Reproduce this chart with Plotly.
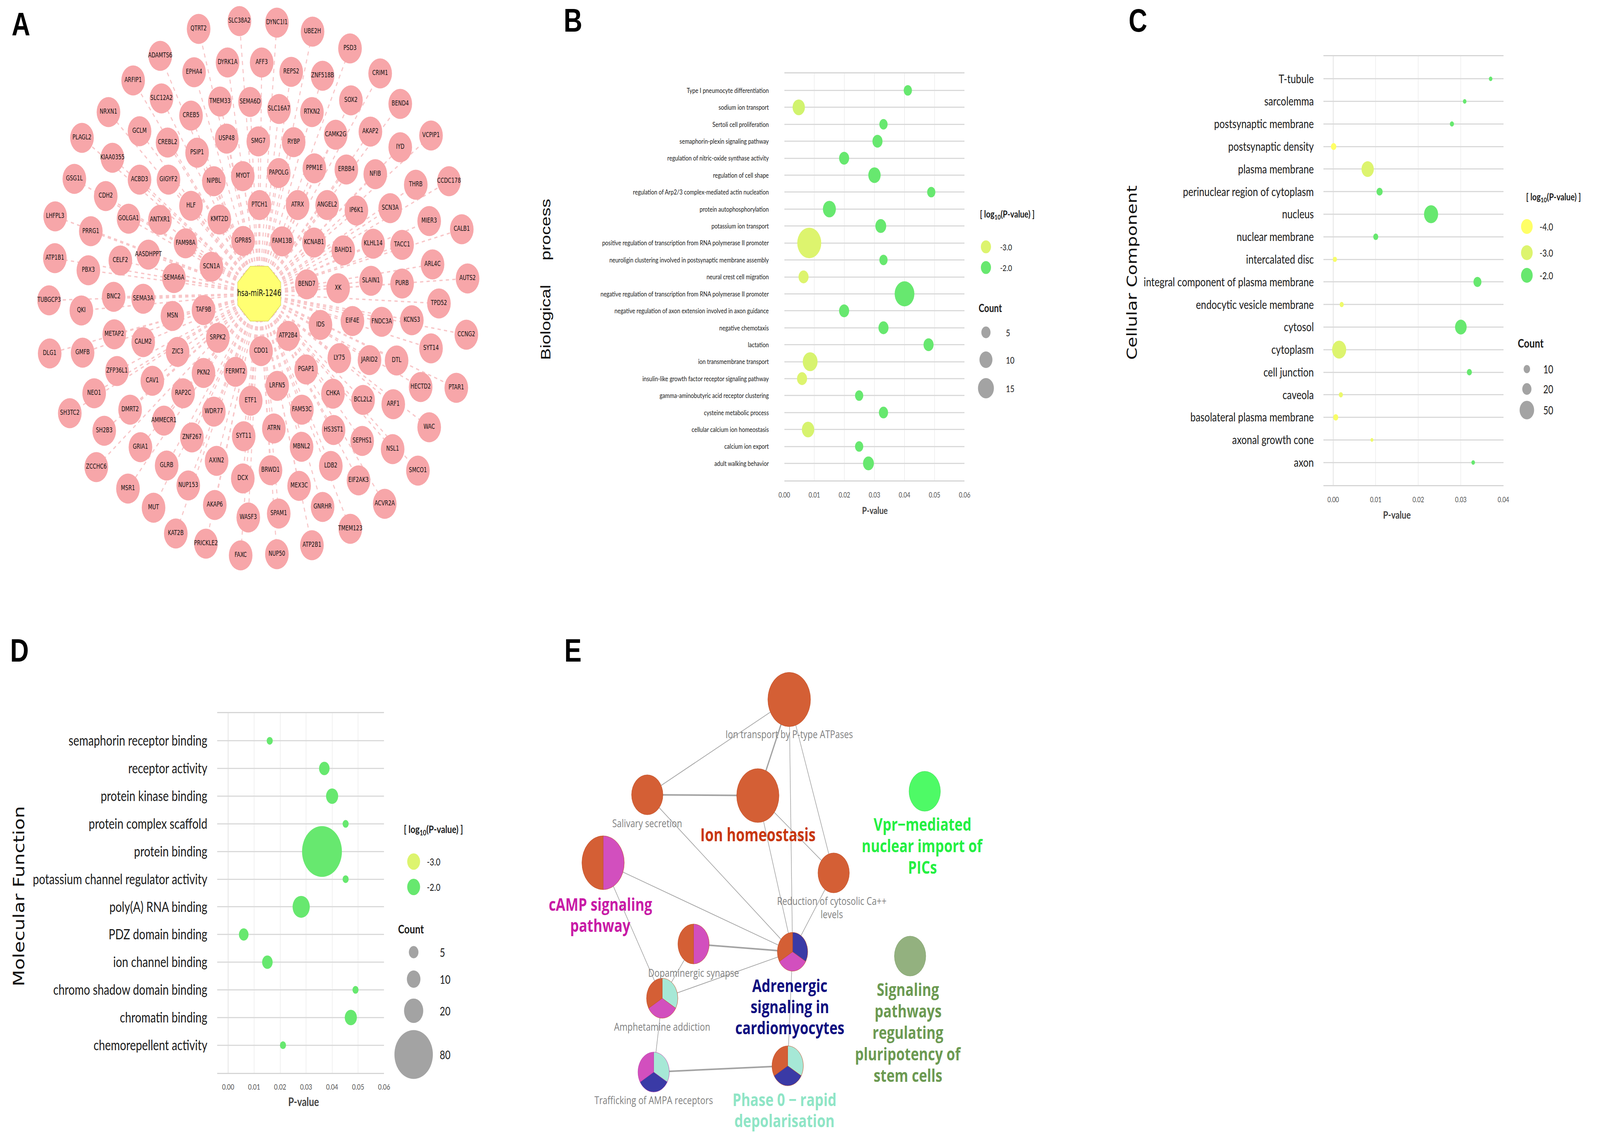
import plotly.graph_objects as go

W, H = 5214, 2901

# ================= Panel A : miRNA - target network =================
a_center_name = "hsa-miR-1246"
a_center_x = [832]
a_center_y = [752]
a_genes = [
    "QTRT2", "SLC38A2", "ADAMTS6", "EPHA4", "DYRK1A", "AFF3", "ARFIP1", "SLC12A2", "TMEM33", "SEMA6D",
    "NRXN1", "CREB5", "GCLM", "PLAGL2", "CREBL2", "USP48", "SMG7", "PSIP1", "KIAA0355", "GSG1L",
    "ACBD3", "GIGYF2", "NIPBL", "MYOT", "CDH2", "HLF", "PTCH1", "LHFPL3", "GOLGA1", "ANTXR1",
    "KMT2D", "PRRG1", "FAM98A", "GPR85", "ATP1B1", "CELF2", "AASDHPPT", "SCN1A", "PBX3",
    "DYNC1I1", "UBE2H", "PSD3", "REPS2", "ZNF518B", "CRIM1", "SLC16A7", "RTKN2", "SOX2", "BEND4",
    "CAMK2G", "AKAP2", "VCPIP1", "RYBP", "IYD", "PAPOLG", "PPM1E", "ERBB4", "NFIB", "THRB",
    "CCDC178", "ATRX", "ANGEL2", "IP6K1", "SCN3A", "MIER3", "CALB1", "FAM13B", "KCNAB1", "BAHD1",
    "KLHL14", "TACC1", "ARL4C",
    "SEMA6A", "TUBGCP3", "QKI", "BNC2", "SEMA3A", "MSN", "TAF9B", "METAP2", "CALM2", "DLG1",
    "GMFB", "ZIC3", "SRPK2", "CDO1", "ZFP36L1", "CAV1", "PKN2", "FERMT2", "NEO1", "RAP2C",
    "ETF1", "SH3TC2", "DMRT2", "WDR77", "AMMECR1", "SH2B3", "ZNF267", "SYT11", "GRIA1", "ZCCHC6",
    "GLRB", "AXIN2", "DCX", "MSR1", "NUP153", "MUT", "AKAP6", "WASF3", "KAT2B", "PRICKLE2",
    "FAXC", "NUP50", "ATP2B1",
    "BEND7", "XK", "SLAIN1", "PURB", "AUTS2", "TPD52", "IDS", "EIF4E", "FNDC3A", "KCNS3",
    "CCNG2", "ATP2B4", "SYT14", "LY75", "JARID2", "DTL", "PGAP1", "HECTD2", "PTAR1", "LRFN5",
    "CHKA", "BCL2L2", "ARF1", "FAM53C", "WAC", "ATRN", "HS3ST1", "SEPHS1", "NSL1", "MBNL2",
    "SMCO1", "BRWD1", "LDB2", "EIF2AK3", "MEX3C", "ACVR2A", "GNRHR", "SPAM1", "TMEM123",
]
a_node_x = [
    633, 767, 507, 618, 728, 840, 418, 511, 703, 802,
    337, 608, 439, 250, 531, 725, 829, 628, 350, 225,
    439, 534, 683, 778, 328, 608, 833, 162, 403, 506,
    701, 279, 590, 779, 161, 376, 468, 675, 271,
    890, 1007, 1130, 937, 1040, 1229, 897, 1005, 1133, 1295,
    1083, 1197, 1396, 945, 1295, 896, 1013, 1118, 1213, 1346,
    1455, 958, 1055, 1151, 1262, 1390, 1497, 907, 1012, 1108,
    1206, 1301, 1401,
    552, 142, 248, 354, 451, 547, 649, 356, 451, 144,
    252, 564, 696, 838, 365, 481, 649, 754, 290, 582,
    804, 210, 408, 683, 519, 323, 611, 781, 442, 297,
    528, 692, 778, 401, 599, 485, 686, 796, 558, 657,
    771, 890, 1005,
    988, 1091, 1199, 1301, 1516, 1422, 1033, 1138, 1234, 1333,
    1512, 927, 1396, 1095, 1194, 1283, 986, 1362, 1479, 891,
    1074, 1173, 1272, 972, 1390, 880, 1076, 1170, 1270, 971,
    1353, 869, 1067, 1158, 963, 1244, 1040, 896, 1131,
]
a_node_y = [
    74, 54, 143, 185, 160, 160, 206, 252, 260, 261,
    287, 296, 336, 353, 365, 355, 362, 391, 404, 458,
    460, 460, 464, 451, 502, 527, 525, 554, 560, 563,
    562, 592, 623, 617, 661, 667, 652, 683, 692,
    58, 81, 124, 184, 194, 188, 279, 287, 257, 266,
    345, 337, 347, 364, 377, 443, 431, 434, 446, 473,
    464, 525, 525, 539, 533, 566, 587, 618, 621, 641,
    624, 627, 677,
    712, 769, 795, 760, 765, 809, 794, 856, 876, 905,
    903, 901, 865, 899, 950, 975, 955, 952, 1007, 1007,
    1026, 1058, 1049, 1054, 1077, 1103, 1120, 1117, 1145, 1196,
    1192, 1180, 1225, 1251, 1243, 1300, 1293, 1325, 1366, 1392,
    1422, 1419, 1396,
    728, 738, 719, 726, 713, 777, 832, 822, 824, 820,
    857, 860, 892, 917, 922, 923, 946, 991, 993, 988,
    1008, 1024, 1035, 1049, 1094, 1097, 1101, 1129, 1150, 1144,
    1205, 1204, 1193, 1230, 1244, 1290, 1298, 1315, 1354,
]

# ================= Panel B : Biological process =================
b_terms = [
    "Type I pneumocyte differentiation",
    "sodium ion transport",
    "Sertoli cell proliferation",
    "semaphorin-plexin signaling pathway",
    "regulation of nitric-oxide synthase activity",
    "regulation of cell shape",
    "regulation of Arp2/3 complex-mediated actin nucleation",
    "protein autophosphorylation",
    "potassium ion transport",
    "positive regulation of transcription from RNA polymerase II promoter",
    "neuroligin clustering involved in postsynaptic membrane assembly",
    "neural crest cell migration",
    "negative regulation of transcription from RNA polymerase II promoter",
    "negative regulation of axon extension involved in axon guidance",
    "negative chemotaxis",
    "lactation",
    "ion transmembrane transport",
    "insulin-like growth factor receptor signaling pathway",
    "gamma-aminobutyric acid receptor clustering",
    "cysteine metabolic process",
    "cellular calcium ion homeostasis",
    "calcium ion export",
    "adult walking behavior",
]
b_pvalue = [0.0411, 0.0048, 0.0330, 0.0310, 0.0199, 0.0300, 0.0489, 0.0150, 0.0321, 0.0083,
            0.0330, 0.0064, 0.0400, 0.0199, 0.0330, 0.0480, 0.0086, 0.0059, 0.0249, 0.0330,
            0.0079, 0.0249, 0.0280]
b_log10p = [-2.0, -2.9, -2.0, -2.0, -2.0, -2.0, -2.0, -2.0, -2.0, -3.0,
            -2.0, -3.0, -2.0, -2.0, -2.0, -2.0, -2.95, -3.0, -2.0, -2.0,
            -2.95, -2.0, -2.0]
b_count = [4, 9, 4, 6, 6, 9, 4, 10, 7, 34,
           4, 6, 23, 6, 6, 6, 13, 6, 4, 5,
           9, 4, 7]
b_legend_log10p = [-3.0, -2.0]
b_legend_count = [5, 10, 15]

# ================= Panel C : Cellular component =================
c_terms = [
    "T-tubule", "sarcolemma", "postsynaptic membrane", "postsynaptic density", "plasma membrane",
    "perinuclear region of cytoplasm", "nucleus", "nuclear membrane", "intercalated disc",
    "integral component of plasma membrane", "endocytic vesicle membrane", "cytosol", "cytoplasm",
    "cell junction", "caveola", "basolateral plasma membrane", "axonal growth cone", "axon",
]
c_pvalue = [0.0370, 0.0309, 0.0279, 0.0001, 0.0081, 0.0109, 0.0230, 0.0100, 0.0004, 0.0339,
            0.0020, 0.0300, 0.0014, 0.0320, 0.0018, 0.0006, 0.0091, 0.0329]
c_log10p = [-2.0, -2.0, -2.0, -4.0, -3.0, -2.0, -2.0, -2.0, -3.8, -2.0,
            -3.5, -2.0, -3.0, -2.0, -3.4, -3.8, -3.5, -2.0]
c_count = [3, 3, 4, 7, 36, 9, 47, 6, 4, 15, 4, 32, 47, 6, 4, 6, 2, 3]
c_legend_log10p = [-4.0, -3.0, -2.0]
c_legend_count = [10, 20, 50]

# ================= Panel D : Molecular function =================
d_terms = [
    "semaphorin receptor binding", "receptor activity", "protein kinase binding",
    "protein complex scaffold", "protein binding", "potassium channel regulator activity",
    "poly(A) RNA binding", "PDZ domain binding", "ion channel binding",
    "chromo shadow domain binding", "chromatin binding", "chemorepellent activity",
]
d_pvalue = [0.0160, 0.0370, 0.0400, 0.0452, 0.0361, 0.0452, 0.0281, 0.0060, 0.0151, 0.0490, 0.0472, 0.0211]
d_log10p = [-2.0] * 12
d_count = [2, 6, 8, 2, 86, 2, 16, 5, 6, 2, 8, 2]
d_legend_log10p = [-3.0, -2.0]
d_legend_count = [5, 10, 20, 80]

pvalue_ticks = [0.00, 0.01, 0.02, 0.03, 0.04, 0.05, 0.06]
c_pvalue_ticks = [0.00, 0.01, 0.02, 0.03, 0.04]

# ================= Panel E : pathway cluster network =================
e_terms = [
    "Ion transport by P-type ATPases", "Salivary secretion", "Ion homeostasis",
    "Reduction of cytosolic Ca++ levels", "cAMP signaling pathway", "Dopaminergic synapse",
    "Adrenergic signaling in cardiomyocytes", "Amphetamine addiction",
    "Trafficking of AMPA receptors", "Phase 0 - rapid depolarisation",
    "Vpr-mediated nuclear import of PICs", "Signaling pathways regulating pluripotency of stem cells",
]
e_node_x = [2572, 2106, 2469, 2718, 1961, 2258, 2583, 2155, 2127, 2567, 3017, 2969]
e_node_y = [1791, 2035, 2037, 2235, 2209, 2417, 2437, 2556, 2745, 2729, 2026, 2448]
e_node_d = [140, 103, 139, 103, 139, 103, 100, 103, 103, 103, 103, 103]
# group membership of each node, clockwise from 12 o'clock
e_membership = [
    ["Ion homeostasis"], ["Ion homeostasis"], ["Ion homeostasis"], ["Ion homeostasis"],
    ["cAMP signaling pathway", "Ion homeostasis"],
    ["cAMP signaling pathway", "Ion homeostasis"],
    ["Adrenergic signaling in cardiomyocytes", "cAMP signaling pathway", "Ion homeostasis"],
    ["Phase 0 - rapid depolarisation", "cAMP signaling pathway", "Ion homeostasis"],
    ["Phase 0 - rapid depolarisation", "Adrenergic signaling in cardiomyocytes", "cAMP signaling pathway"],
    ["Phase 0 - rapid depolarisation", "Adrenergic signaling in cardiomyocytes", "Ion homeostasis"],
    ["Vpr-mediated nuclear import of PICs"],
    ["Signaling pathways regulating pluripotency of stem cells"],
]
e_edges = [(0, 1), (0, 2), (0, 6), (0, 3), (1, 2), (1, 6), (2, 3), (2, 6), (3, 6),
           (4, 6), (4, 7), (5, 6), (5, 7), (7, 6), (7, 8), (6, 9), (8, 9)]
e_edge_strong = [False, True, False, False, True, False, False, False, False,
                 False, False, True, False, False, False, False, True]

# ================= Styles =================
GROUP_COLORS = {
    "Ion homeostasis": "#D45F35",
    "cAMP signaling pathway": "#D24FBE",
    "Adrenergic signaling in cardiomyocytes": "#3A3AA6",
    "Phase 0 - rapid depolarisation": "#A6E8D6",
    "Vpr-mediated nuclear import of PICs": "#4EFA66",
    "Signaling pathways regulating pluripotency of stem cells": "#93B17F",
}
GROUP_LINE = {
    "Ion homeostasis": "#C04E26",
    "cAMP signaling pathway": "#B83FA6",
    "Adrenergic signaling in cardiomyocytes": "#2E2E90",
    "Phase 0 - rapid depolarisation": "#8FD6C2",
    "Vpr-mediated nuclear import of PICs": "#3BDD52",
    "Signaling pathways regulating pluripotency of stem cells": "#80A06C",
}
CS = [[0.0, "#FFFF66"], [0.5, "#DDF46E"], [1.0, "#67E86F"]]
FONT = "Lato, Carlito, Liberation Sans, sans-serif"
EFONT = "Open Sans, Lato, Liberation Sans, sans-serif"
NODEFONT = "DejaVu Sans Condensed, Liberation Sans Narrow, Liberation Sans, sans-serif"

fig = go.Figure()

# ---------- Panel A drawing ----------
ex, ey = [], []
for nx, ny in zip(a_node_x, a_node_y):
    ex += [a_center_x[0], nx, None]
    ey += [a_center_y[0], ny, None]
fig.add_trace(go.Scatter(x=ex, y=ey, mode="lines", xaxis="x", yaxis="y",
                         line=dict(color="#F8C6C8", width=3.5, dash="dash"),
                         hoverinfo="skip", showlegend=False))
fig.add_trace(go.Scatter(x=a_node_x, y=a_node_y, mode="markers+text", xaxis="x", yaxis="y",
                         text=a_genes, textposition="middle center",
                         textfont=dict(family=NODEFONT, size=18, color="#111111"),
                         marker=dict(size=77, color="#F7A6A9", line=dict(width=0)),
                         hoverinfo="skip", showlegend=False))
fig.add_trace(go.Scatter(x=a_center_x, y=a_center_y, mode="markers+text", xaxis="x", yaxis="y",
                         text=[a_center_name], textposition="middle center",
                         textfont=dict(family=NODEFONT, size=23, color="#111111"),
                         marker=dict(size=152, symbol="octagon", color="#FFFF72",
                                     line=dict(color="#D6D65A", width=1.5)),
                         hoverinfo="skip", showlegend=False))

# ---------- Panel E edges ----------
for strong in (False, True):
    lx, ly = [], []
    for (i, j), s in zip(e_edges, e_edge_strong):
        if s == strong:
            lx += [e_node_x[i], e_node_x[j], None]
            ly += [e_node_y[i], e_node_y[j], None]
    fig.add_trace(go.Scatter(x=lx, y=ly, mode="lines", xaxis="x", yaxis="y",
                             line=dict(color="#A3A3A3" if strong else "#9E9E9E",
                                       width=4 if strong else 1.8),
                             hoverinfo="skip", showlegend=False))

# ---------- Panel E nodes as pies ----------
for k in range(len(e_terms)):
    cx, cy, r = e_node_x[k], e_node_y[k], e_node_d[k] / 2
    groups = e_membership[k]
    fig.add_trace(go.Pie(
        values=[1] * len(groups), labels=[f"{e_terms[k]} | {g}" for g in groups],
        marker=dict(colors=[GROUP_COLORS[g] for g in groups],
                    line=dict(color=GROUP_LINE[groups[-1]], width=1)),
        sort=False, direction="clockwise", rotation=0, textinfo="none",
        hoverinfo="skip", showlegend=False,
        domain=dict(x=[(cx - r) / W, (cx + r) / W], y=[1 - (cy + r) / H, 1 - (cy - r) / H]),
    ))


# ---------- Bubble panels ----------
def bubble(p, logs, counts, sizeref, xa, ya):
    return go.Scatter(x=p, y=list(range(len(p))), mode="markers", xaxis=xa, yaxis=ya,
                      marker=dict(size=counts, sizemode="area", sizeref=sizeref,
                                  color=logs, colorscale=CS, cmin=-4, cmax=-2,
                                  line=dict(width=0), opacity=1),
                      hoverinfo="skip", showlegend=False)


B_REF = 2 / 13.4 ** 2
C_REF = 2 / 6.7 ** 2
D_REF = 2 / 14.0 ** 2
fig.add_trace(bubble(b_pvalue, b_log10p, b_count, B_REF, "x2", "y2"))
fig.add_trace(bubble(c_pvalue, c_log10p, c_count, C_REF, "x3", "y3"))
fig.add_trace(bubble(d_pvalue, d_log10p, d_count, D_REF, "x4", "y4"))

annotations = []


def ann(text, x, y, size, color="#1a1a1a", family=FONT, bold=False, angle=0,
        xanchor="center", yanchor="middle"):
    annotations.append(dict(text=f"<b>{text}</b>" if bold else text, x=x, y=y, xref="x", yref="y",
                            showarrow=False, textangle=angle, xanchor=xanchor, yanchor=yanchor,
                            font=dict(size=size, color=color, family=family)))


def ann_lines(lines, x, y0, step, size, color, family=EFONT, bold=True):
    for i, line in enumerate(lines):
        ann(line, x, y0 + i * step, size, color=color, family=family, bold=bold)


def legends(title_xy, title_size, cx, color_ys, logs, dot, lab_x, lab_size,
            count_title_xy, count_size, count_ys, counts, sizeref, count_lab_x, count_lab_size):
    fig.add_trace(go.Scatter(x=[cx] * len(logs), y=color_ys, mode="markers", xaxis="x", yaxis="y",
                             marker=dict(size=dot, color=logs, colorscale=CS, cmin=-4, cmax=-2,
                                         line=dict(width=0)),
                             hoverinfo="skip", showlegend=False))
    fig.add_trace(go.Scatter(x=[cx] * len(counts), y=count_ys, mode="markers", xaxis="x", yaxis="y",
                             marker=dict(size=counts, sizemode="area", sizeref=sizeref,
                                         color="#7C7C7C", line=dict(width=0)),
                             hoverinfo="skip", showlegend=False))
    ann("[ log<sub>10</sub>(P-value) ]", title_xy[0], title_xy[1], title_size, bold=True)
    for v, yy in zip(logs, color_ys):
        ann(f"{v:.1f}", lab_x, yy, lab_size, xanchor="left")
    ann("Count", count_title_xy[0], count_title_xy[1], count_size, bold=True, xanchor="left")
    for v, yy in zip(counts, count_ys):
        ann(str(v), count_lab_x, yy, count_lab_size, xanchor="left")


legends((3288, 549), 25, 3218, [632, 685], b_legend_log10p, 33, 3262, 22,
        (3192, 788), 28, [851, 921, 994], b_legend_count, B_REF, 3282, 24)
legends((5082, 505), 25, 4994, [580, 647, 705], c_legend_log10p, 38, 5034, 25,
        (4962, 878), 31, [945, 996, 1050], c_legend_count, C_REF, 5046, 28)
legends((1404, 2124), 27, 1339, [2206, 2271], d_legend_log10p, 42, 1380, 25,
        (1286, 2378), 31, [2438, 2507, 2588, 2700], d_legend_count, D_REF, 1423, 30)

# axis titles
ann("P-value", 2853, 1306, 25, color="#444444", bold=True)
ann("P-value", 4567, 1317, 27, color="#444444", bold=True)
ann("P-value", 978, 2820, 30, color="#444444", bold=True)
ann("Biological\u00a0\u00a0\u00a0\u00a0\u00a0process", 1772, 715, 45, color="#111111",
    family="Liberation Sans, Arial, sans-serif", angle=-90)
ann("Cellular Component", 3697, 698, 45, color="#111111",
    family="DejaVu Sans, Liberation Sans, sans-serif", angle=-90)
ann("Molecular Function", 43, 2295, 49, color="#111111",
    family="DejaVu Sans, Liberation Sans, sans-serif", angle=-90)

# panel letters
for letter, lx, ly in [("A", 50, 62), ("B", 1862, 52), ("C", 3717, 52), ("D", 45, 1665), ("E", 1862, 1665)]:
    ann(letter, lx, ly, 84, color="#000000", family="Liberation Sans, Arial, sans-serif", bold=True)

# panel E labels
GRAY = "#808080"
ann("Ion transport by P-type ATPases", 2572, 1879, 28, color=GRAY, family=EFONT)
ann("Salivary secretion", 2106, 2107, 28, color=GRAY, family=EFONT)
ann_lines(["Reduction of cytosolic Ca++", "levels"], 2712, 2306, 34, 28, GRAY, bold=False)
ann("Dopaminergic synapse", 2258, 2490, 28, color=GRAY, family=EFONT)
ann("Amphetamine addiction", 2155, 2628, 28, color=GRAY, family=EFONT)
ann("Trafficking of AMPA receptors", 2127, 2816, 28, color=GRAY, family=EFONT)
ann("Ion homeostasis", 2469, 2136, 46, color="#C8370F", family=EFONT, bold=True)
ann_lines(["Vpr\u2212mediated", "nuclear import of", "PICs"], 3010, 2109, 55, 45, "#24F042")
ann_lines(["cAMP signaling", "pathway"], 1952, 2314, 54, 45, "#C81BA6")
ann_lines(["Adrenergic", "signaling in", "cardiomyocytes"], 2574, 2522, 54, 45, "#0E0E80")
ann_lines(["Phase 0 \u2212 rapid", "depolarisation"], 2557, 2814, 54, 45, "#8FE5C6")
ann_lines(["Signaling", "pathways", "regulating", "pluripotency of", "stem cells"], 2962, 2532, 55, 45,
          "#6C9A52")


def xaxis(dom, rng, ticks, anchor, fsize, standoff):
    return dict(domain=dom, range=rng, anchor=anchor, tickmode="array", tickvals=ticks,
                ticktext=[f"{t:.2f}" for t in ticks], showgrid=True, gridcolor="#E4E4E4",
                gridwidth=1.5, zeroline=False, showline=True, mirror=True, linecolor="#D6D6D6",
                linewidth=3, ticks="outside", ticklen=standoff, tickcolor="rgba(0,0,0,0)",
                tickfont=dict(family=FONT, size=fsize, color="#555555"), fixedrange=True)


def yaxis(dom, terms, anchor, fsize, standoff):
    n = len(terms)
    return dict(domain=dom, range=[n, -1], anchor=anchor, tickmode="array",
                tickvals=list(range(n)), ticktext=terms, showgrid=True, gridcolor="#DADADA",
                gridwidth=3, zeroline=False, showline=False, ticks="outside", ticklen=standoff,
                tickcolor="rgba(0,0,0,0)", tickfont=dict(family=FONT, size=fsize, color="#1a1a1a"),
                fixedrange=True)


fig.update_layout(
    width=W, height=H, margin=dict(l=0, r=0, t=0, b=0),
    paper_bgcolor="white", plot_bgcolor="rgba(0,0,0,0)", showlegend=False, hovermode=False,
    xaxis=dict(domain=[0, 1], range=[0, W], visible=False, fixedrange=True),
    yaxis=dict(domain=[0, 1], range=[H, 0], visible=False, fixedrange=True),
    xaxis2=xaxis([2556 / W, 3148 / W], [0, 0.06], pvalue_ticks, "y2", 19, 18),
    yaxis2=yaxis([1 - 1230 / H, 1 - 188 / H], b_terms, "x2", 18, 46),
    xaxis3=xaxis([4326 / W, 4917 / W], [-0.0023, 0.04], c_pvalue_ticks, "y3", 19, 18),
    yaxis3=yaxis([1 - 1242 / H, 1 - 144 / H], c_terms, "x3", 31, 24),
    xaxis4=xaxis([694 / W, 1242 / W], [-0.0042, 0.06], pvalue_ticks, "y4", 20, 16),
    yaxis4=yaxis([1 - 2747 / H, 1 - 1826 / H], d_terms, "x4", 36, 24),
    annotations=annotations,
)

# scale the 5214x2901 design to whatever viewport the page is opened in
FIT_JS = """
(function(){
  var gd = document.getElementById('{plot_id}');
  if (!gd) return;
  var wrap = gd.parentElement;
  var de = document.documentElement, bd = document.body;
  de.style.margin = '0'; de.style.padding = '0'; de.style.overflow = 'hidden';
  bd.style.margin = '0'; bd.style.padding = '0'; bd.style.overflow = 'hidden';
  function fit(){
    var vw = window.innerWidth || de.clientWidth, vh = window.innerHeight || de.clientHeight;
    if (!vw || !vh) return;
    var sx = vw / %d, sy = vh / %d;
    wrap.style.width = vw + 'px'; wrap.style.height = vh + 'px'; wrap.style.overflow = 'hidden';
    gd.style.transformOrigin = '0 0';
    gd.style.transform = 'scale(' + sx + ',' + sy + ')';
  }
  fit();
  window.addEventListener('resize', fit);
})();
""" % (W, H)

fig.write_html("out.html", config={"displayModeBar": False, "staticPlot": True}, post_script=FIT_JS)
